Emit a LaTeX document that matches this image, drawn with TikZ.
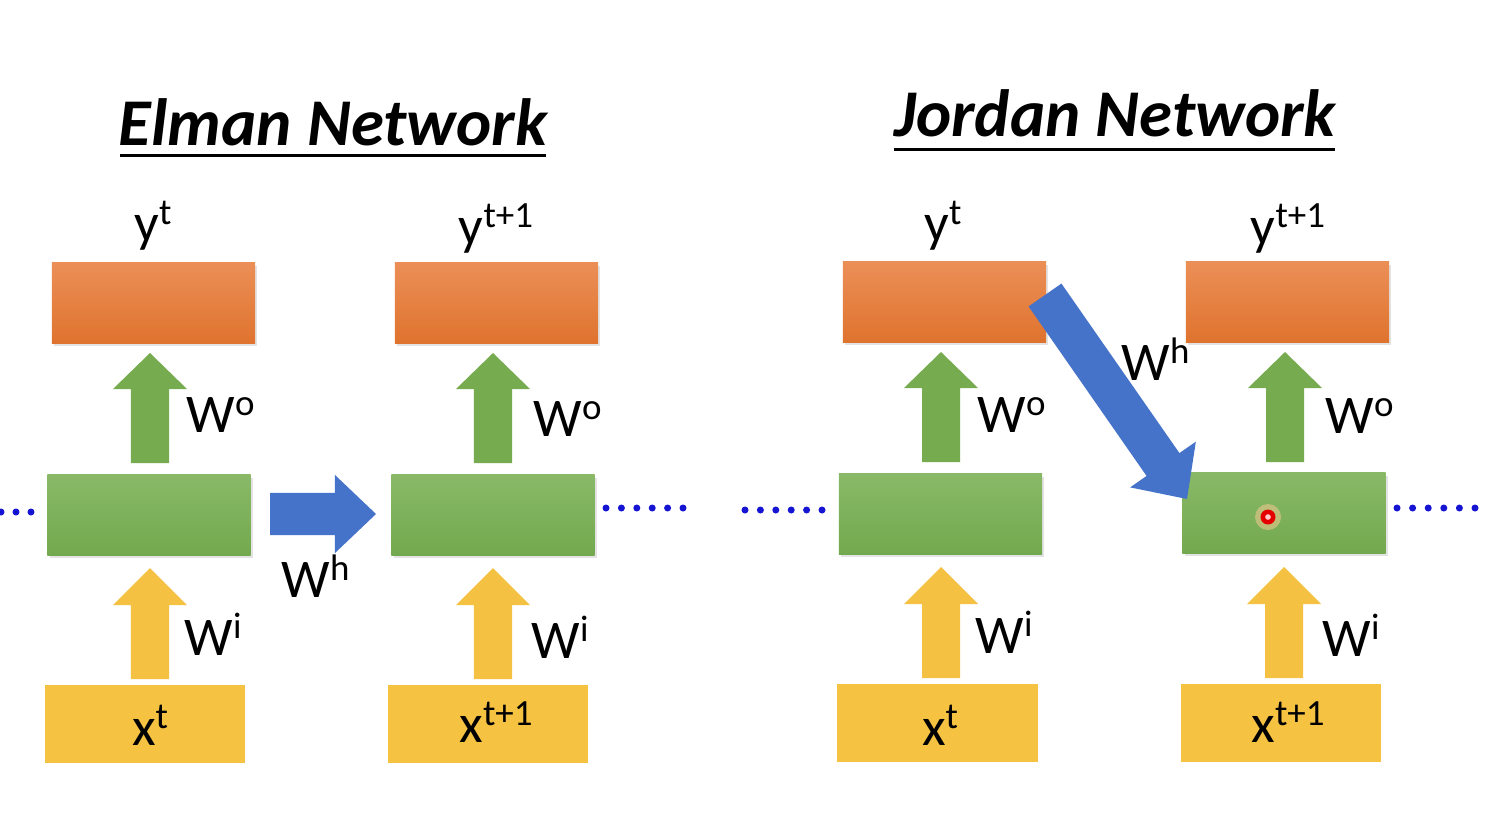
\documentclass[tikz,border=0pt]{standalone}
\usepackage{fontspec}
\setmainfont{Carlito}
\usetikzlibrary{calc,shadows}
\definecolor{orT}{HTML}{EB8F57}
\definecolor{orB}{HTML}{DF732E}
\definecolor{grT}{HTML}{89B967}
\definecolor{grB}{HTML}{73A94E}
\definecolor{yel}{HTML}{F5C242}
\definecolor{garr}{HTML}{76AB50}
\definecolor{yarr}{HTML}{F4C142}
\definecolor{barr}{HTML}{4573C9}
\definecolor{dotb}{HTML}{1414D2}
\newcommand\sps[1]{\raisebox{0.3em}{\fontsize{10.5}{12}\selectfont #1}}
% block arrow: colour, tail, tip, shaft half width, head half width, head length
\newcommand\blkarrow[6]{%
  \coordinate (hb) at ($(#3)!#6!(#2)$);
  \fill[#1] ($(#2)!#4!-90:(#3)$) -- ($(hb)!#4!-90:(#3)$) -- ($(hb)!#5!-90:(#3)$) -- (#3)
    -- ($(hb)!#5!90:(#3)$) -- ($(hb)!#4!90:(#3)$) -- ($(#2)!#4!90:(#3)$) -- cycle;}
\begin{document}
\begin{tikzpicture}[x=0.01cm,y=-0.01cm,
  box/.style={rectangle, inner sep=0, minimum width=2.03cm, minimum height=0.80cm},
  outbox/.style={box, top color=orT, bottom color=orB,
     drop shadow={opacity=0.22,shadow xshift=0.6pt,shadow yshift=-0.8pt}},
  hidbox/.style={box, top color=grT, bottom color=grB,
     drop shadow={opacity=0.22,shadow xshift=0.6pt,shadow yshift=-0.8pt}},
  inbox/.style={box, minimum width=2.00cm, minimum height=0.78cm, fill=yel,
     font=\fontsize{15.5}{18}\selectfont},
  lab/.style={font=\fontsize{15.5}{18}\selectfont, inner sep=0, anchor=base west},
  ylab/.style={font=\fontsize{15.5}{18}\selectfont, inner sep=0, anchor=base},
  ttl/.style={font=\fontsize{19}{23}\selectfont\bfseries\itshape, inner sep=0, anchor=base},
  uline/.style={line width=0.85pt},
  dotc/.style={fill=dotb}
]
\useasboundingbox[fill=white] (0,0) rectangle (1488,836);

% ---------- titles ----------
\node[ttl] (t1) at (333,145) {Elman Network};
\draw[uline] (120,155) -- (546,155);
\node[ttl] (t2) at (1115,136) {Jordan Network};
\draw[uline] (894,149) -- (1335,149);

% ---------- boxes ----------
\node[outbox] (o1) at (153.5,303) {};
\node[outbox] (o2) at (496.5,303) {};
\node[outbox] (o3) at (944.5,302) {};
\node[outbox] (o4) at (1287.5,302) {};

\node[hidbox] (h1) at (149,515) {};
\node[hidbox] (h2) at (493,515) {};
\node[hidbox] (h3) at (940.5,514) {};
\node[hidbox] (h4) at (1284,513) {};

\node[inbox] (x1) at (145,724) {};
\node[inbox] (x2) at (488,724) {};
\node[inbox] (x3) at (937.5,723) {};
\node[inbox] (x4) at (1281,723) {};

% ---------- box texts ----------
\node[ylab] (xl1) at (150,745) {x\sps{t}};
\node[ylab] (xl2) at (496,742) {x\sps{t+1}};
\node[ylab] (xl3) at (940,745) {x\sps{t}};
\node[ylab] (xl4) at (1288,742) {x\sps{t+1}};

\node[ylab] (yl1) at (153,241) {y\sps{t}};
\node[ylab] (yl2) at (496,244) {y\sps{t+1}};
\node[ylab] (yl3) at (943,241) {y\sps{t}};
\node[ylab] (yl4) at (1288,244) {y\sps{t+1}};

% ---------- up arrows ----------
\blkarrow{garr}{150,463}{150,353}{0.19cm}{0.37cm}{0.36cm}
\blkarrow{garr}{493,463}{493,353}{0.19cm}{0.37cm}{0.36cm}
\blkarrow{garr}{941,462}{941,352}{0.19cm}{0.37cm}{0.36cm}
\blkarrow{garr}{1285,462}{1285,352}{0.19cm}{0.37cm}{0.36cm}

\blkarrow{yarr}{150,679}{150,568}{0.19cm}{0.37cm}{0.37cm}
\blkarrow{yarr}{493,679}{493,568}{0.19cm}{0.37cm}{0.37cm}
\blkarrow{yarr}{941,678}{941,567}{0.19cm}{0.37cm}{0.37cm}
\blkarrow{yarr}{1284,678}{1284,567}{0.19cm}{0.37cm}{0.37cm}

% ---------- recurrent arrows ----------
\blkarrow{barr}{270,514}{376,514}{0.21cm}{0.39cm}{0.41cm}
\blkarrow{barr}{1045,295}{1187,499}{0.20cm}{0.40cm}{0.42cm}

% ---------- weight labels ----------
\node[lab] (wo1) at (186,432) {W\sps{o}};
\node[lab] (wo2) at (533,436) {W\sps{o}};
\node[lab] (wo3) at (977,432) {W\sps{o}};
\node[lab] (wo4) at (1325,433) {W\sps{o}};

\node[lab] (wi1) at (184,655) {W\sps{i}};
\node[lab] (wi2) at (531,658) {W\sps{i}};
\node[lab] (wi3) at (975,653) {W\sps{i}};
\node[lab] (wi4) at (1322,656) {W\sps{i}};

\node[lab] (wh1) at (281,597) {W\sps{h}};
\node[lab] (wh2) at (1121,380) {W\sps{h}};

% ---------- dots ----------
\foreach \i in {0,1,2} \fill[dotc] (1+15*\i,512) circle (0.035cm);
\foreach \i in {0,...,5} \fill[dotc] (606+15.4*\i,508) circle (0.035cm);
\foreach \i in {0,...,5} \fill[dotc] (745+15.4*\i,510) circle (0.035cm);
\foreach \i in {0,...,5} \fill[dotc] (1397+15.6*\i,508) circle (0.035cm);

% ---------- pointer mark ----------
\fill[orange!40,opacity=0.5] (1268,517) circle (0.13cm);
\fill[red!90!black] (1268,517) circle (0.075cm);
\fill[white!80!red] (1268,517) circle (0.028cm);
\end{tikzpicture}
\end{document}
